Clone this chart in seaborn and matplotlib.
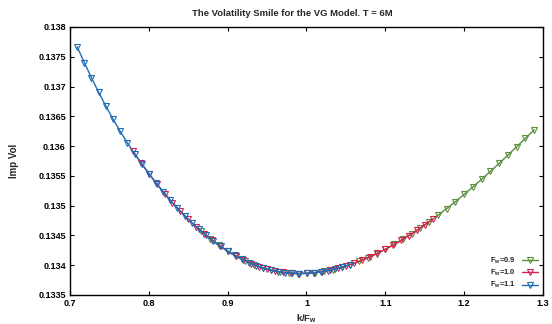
#!/usr/bin/env python3

import numpy as np
import pandas as pd
import matplotlib
matplotlib.use("Agg")
import matplotlib.pyplot as plt
import seaborn as sns

# strikes k = 0.78 ... 1.16, moneyness k/F_w for each forward
moneyness_09 = [0.86667, 0.87778, 0.88889, 0.90000, 0.91111, 0.92222, 0.93333, 0.94444,
                0.95556, 0.96667, 0.97778, 0.98889, 1.00000, 1.01111, 1.02222, 1.03333,
                1.04444, 1.05556, 1.06667, 1.07778, 1.08889, 1.10000, 1.11111, 1.12222,
                1.13333, 1.14444, 1.15556, 1.16667, 1.17778, 1.18889, 1.20000, 1.21111,
                1.22222, 1.23333, 1.24444, 1.25556, 1.26667, 1.27778, 1.28889]
vol_09 = [0.134567, 0.134446, 0.134335, 0.134237, 0.134149, 0.134074, 0.134009, 0.133957,
          0.133915, 0.133885, 0.133867, 0.133860, 0.133864, 0.133876, 0.133898, 0.133928,
          0.133966, 0.134011, 0.134065, 0.134125, 0.134193, 0.134267, 0.134348, 0.134435,
          0.134527, 0.134625, 0.134729, 0.134838, 0.134951, 0.135068, 0.135190, 0.135315,
          0.135444, 0.135576, 0.135711, 0.135849, 0.135990, 0.136132, 0.136276]

moneyness_10 = [0.78, 0.79, 0.80, 0.81, 0.82, 0.83, 0.84, 0.85, 0.86, 0.87, 0.88, 0.89,
                0.90, 0.91, 0.92, 0.93, 0.94, 0.95, 0.96, 0.97, 0.98, 0.99, 1.00, 1.01,
                1.02, 1.03, 1.04, 1.05, 1.06, 1.07, 1.08, 1.09, 1.10, 1.11, 1.12, 1.13,
                1.14, 1.15, 1.16]
vol_10 = [0.135911, 0.135720, 0.135539, 0.135367, 0.135204, 0.135050, 0.134906, 0.134771,
          0.134646, 0.134530, 0.134423, 0.134325, 0.134237, 0.134158, 0.134088, 0.134027,
          0.133976, 0.133934, 0.133902, 0.133879, 0.133865, 0.133860, 0.133864, 0.133875,
          0.133893, 0.133918, 0.133949, 0.133987, 0.134032, 0.134082, 0.134138, 0.134200,
          0.134267, 0.134340, 0.134417, 0.134499, 0.134586, 0.134677, 0.134772]

moneyness_11 = [0.70909, 0.71818, 0.72727, 0.73636, 0.74545, 0.75455, 0.76364, 0.77273,
                0.78182, 0.79091, 0.80000, 0.80909, 0.81818, 0.82727, 0.83636, 0.84545,
                0.85455, 0.86364, 0.87273, 0.88182, 0.89091, 0.90000, 0.90909, 0.91818,
                0.92727, 0.93636, 0.94545, 0.95455, 0.96364, 0.97273, 0.98182, 0.99091,
                1.00000, 1.00909, 1.01818, 1.02727, 1.03636, 1.04545, 1.05455]
vol_11 = [0.137669, 0.137401, 0.137146, 0.136903, 0.136673, 0.136455, 0.136249, 0.136056,
          0.135875, 0.135703, 0.135539, 0.135382, 0.135233, 0.135091, 0.134958, 0.134832,
          0.134713, 0.134603, 0.134500, 0.134404, 0.134317, 0.134237, 0.134164, 0.134100,
          0.134043, 0.133994, 0.133952, 0.133918, 0.133892, 0.133874, 0.133863, 0.133860,
          0.133864, 0.133873, 0.133889, 0.133910, 0.133937, 0.133969, 0.134007]

labels = ["F$_w$=0.9", "F$_w$=1.0", "F$_w$=1.1"]
colors = ["#5a8f3e", "#d6204e", "#1f6db5"]


def main():
    sns.set_style("ticks")
    plt.rcParams['font.family'] = ['Liberation Sans', 'DejaVu Sans']
    plt.rcParams['font.weight'] = 'bold'
    plt.rcParams['mathtext.default'] = 'regular'

    fig = plt.figure(figsize=(5.52, 3.24), dpi=100)
    ax = fig.add_axes([70 / 552, 1 - 295 / 324, 473 / 552, 268 / 324])

    series = [(moneyness_09, vol_09), (moneyness_10, vol_10), (moneyness_11, vol_11)]
    for (x, y), lab, col in zip(series, labels, colors):
        df = pd.DataFrame({"k/F": x, "vol": y})
        sns.lineplot(data=df, x="k/F", y="vol", ax=ax, color=col, label=lab,
                     marker="v", markersize=3.8, markerfacecolor="none",
                     markeredgecolor=col, markeredgewidth=0.8, linewidth=1.0)

    ax.set_xlim(0.7, 1.3)
    ax.set_ylim(0.1335, 0.138)
    ax.set_xticks(np.arange(0.7, 1.31, 0.1))
    ax.set_xticklabels(["0.7", "0.8", "0.9", "1", "1.1", "1.2", "1.3"])
    yt = np.arange(0.1335, 0.13801, 0.0005)
    ax.set_yticks(yt)
    ax.set_yticklabels(["0.1335", "0.134", "0.1345", "0.135", "0.1355", "0.136",
                        "0.1365", "0.137", "0.1375", "0.138"])
    ax.tick_params(direction="in", length=3, width=0.8, top=True, right=True,
                   labelsize=6.5, pad=3, colors="black")
    for s in ax.spines.values():
        s.set_linewidth(1.0)
        s.set_color("black")

    ax.set_title("The Volatility Smile for the VG Model. T = 6M", fontsize=6.8,
                 fontweight="bold", x=0.47, pad=8)
    ax.set_xlabel("k/F$_w$", fontsize=6.8, fontweight="bold", labelpad=3)
    ax.set_ylabel("Imp Vol", fontsize=7, fontweight="bold", labelpad=14)

    ax.legend(loc="lower right", frameon=False, markerfirst=False, fontsize=5.5,
              handlelength=2.2, labelspacing=0.25, borderaxespad=0.3,
              borderpad=0.3)

    fig.savefig("out.png", dpi=100)


if __name__ == "__main__":
    main()
